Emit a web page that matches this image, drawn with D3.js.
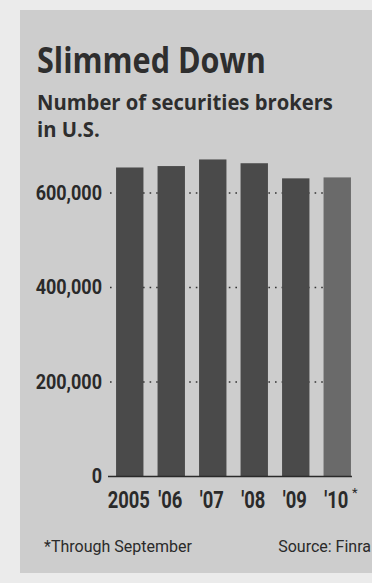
<!DOCTYPE html>
<html>
<head>
<meta charset="utf-8">
<script src="https://cdn.jsdelivr.net/npm/d3@7"></script>
<style>
  body { margin: 0; background: #ebebeb; }
  svg { display: block; }
</style>
</head>
<body>
<svg id="chart" width="372" height="583"></svg>
<script>
// data
const years = ['2005', "'06", "'07", "'08", "'09", "'10"];
const brokers = [654000, 657000, 671000, 663000, 631000, 633000];
const yTicks = [0, 200000, 400000, 600000];

const width = 372;
const height = 583;
const margin = { left: 109, right: 14 };

const svg = d3.select('#chart');

// gray panel
svg.append('rect')
    .attr('x', 20)
    .attr('y', 10)
    .attr('width', width - 20)
    .attr('height', 563)
    .attr('fill', '#cdcdcd');

// newspaper type is condensed, so squeeze the text horizontally
function squeezedText(x, y, str, size, weight, sx, anchor) {
    return svg.append('text')
        .attr('transform', `translate(${x}, ${y}) scale(${sx}, 1)`)
        .style('text-anchor', anchor || 'start')
        .style('font-family', '"Open Sans", sans-serif')
        .style('font-weight', weight)
        .style('font-size', size + 'px')
        .style('fill', '#2e2e2e')
        .text(str);
}

squeezedText(37, 73, 'Slimmed Down', 36, 'bold', 0.85);
squeezedText(37, 109.5, 'Number of securities brokers', 22, 'bold', 0.92);
squeezedText(37, 137, 'in U.S.', 22, 'bold', 0.92);

const g = svg.append('g')
    .attr('transform', `translate(${margin.left}, 0)`);

const chartWidth = width - margin.left - margin.right;

const xScale = d3.scaleBand()
    .domain(years)
    .range([0, chartWidth])
    .paddingInner(0.34)
    .paddingOuter(0.17);

const yScale = d3.scaleLinear()
    .domain([0, 600000])
    .range([476.5, 193]);

const numFont = 'Roboto, sans-serif';
const lastRight = xScale(years[years.length - 1]) + xScale.bandwidth();

// dotted gridlines (behind bars)
g.selectAll('.grid')
    .data(yTicks.filter(d => d > 0))
    .enter()
    .append('line')
    .attr('class', 'grid')
    .attr('x1', 1)
    .attr('x2', lastRight + 1)
    .attr('y1', d => yScale(d))
    .attr('y2', d => yScale(d))
    .attr('stroke', '#333')
    .attr('stroke-width', 1.6)
    .attr('stroke-dasharray', '1.6,5');

// bars
g.selectAll('.bar')
    .data(brokers)
    .enter()
    .append('rect')
    .attr('class', 'bar')
    .attr('x', (d, i) => xScale(years[i]))
    .attr('y', d => yScale(d))
    .attr('width', xScale.bandwidth())
    .attr('height', d => yScale(0) - yScale(d))
    .attr('fill', (d, i) => i === years.length - 1 ? '#6a6a6a' : '#4a4a4a');

// y axis labels
const yAxis = g.append('g')
    .call(d3.axisLeft(yScale).tickValues(yTicks).tickSize(0).tickPadding(0).tickFormat(d3.format(',')));
yAxis.select('.domain').remove();
yAxis.selectAll('text')
    .attr('x', 0)
    .attr('transform', 'translate(-7, 0) scale(0.9, 1)')
    .style('font-family', numFont)
    .style('font-weight', 'bold')
    .style('font-size', '20px')
    .style('fill', '#2a2a2a');

// baseline
g.append('line')
    .attr('x1', -1)
    .attr('x2', lastRight + 1)
    .attr('y1', yScale(0))
    .attr('y2', yScale(0))
    .attr('stroke', '#2a2a2a')
    .attr('stroke-width', 1.5);

// x axis labels
const xAxis = g.append('g')
    .attr('transform', `translate(0, ${yScale(0)})`)
    .call(d3.axisBottom(xScale).tickSize(0).tickPadding(0));
xAxis.select('.domain').remove();
xAxis.selectAll('text')
    .attr('y', 0)
    .attr('dy', 0)
    .attr('transform', 'translate(-1, 31) scale(0.8, 1)')
    .style('font-family', numFont)
    .style('font-weight', 'bold')
    .style('font-size', '23px')
    .style('fill', '#2a2a2a');

// asterisk on 2010
g.append('text')
    .attr('x', lastRight + 1)
    .attr('y', 497)
    .style('font-family', numFont)
    .style('font-size', '13px')
    .style('fill', '#2a2a2a')
    .text('*');

// footnotes
svg.append('text')
    .attr('x', 44)
    .attr('y', 552)
    .style('font-family', numFont)
    .style('font-size', '16px')
    .style('fill', '#2a2a2a')
    .text('*Through September');

svg.append('text')
    .attr('x', 371)
    .attr('y', 552)
    .style('text-anchor', 'end')
    .style('font-family', numFont)
    .style('font-size', '16px')
    .style('fill', '#2a2a2a')
    .text('Source: Finra');
</script>
</body>
</html>
